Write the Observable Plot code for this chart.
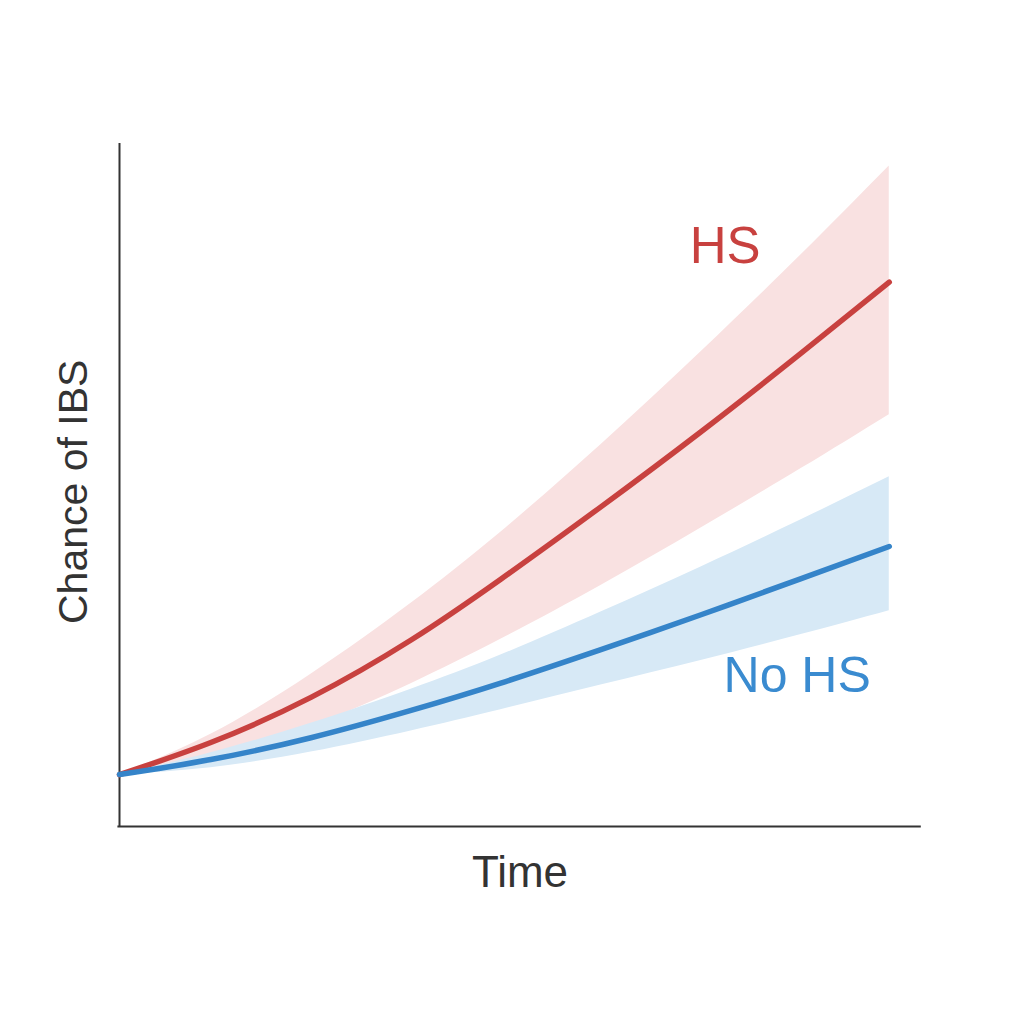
<!DOCTYPE html>
<html>
<head>
<meta charset="utf-8">
<script src="https://cdn.jsdelivr.net/npm/d3@7"></script>
<script src="https://cdn.jsdelivr.net/npm/@observablehq/plot@0.6"></script>
<style>
  html, body { margin: 0; padding: 0; background: #ffffff; }
  #chart { width: 1024px; height: 1024px; }
</style>
</head>
<body>
<div id="chart"></div>
<script>
// Time points (arbitrary units, 0–100 axis)
const time = [0, 11.4, 23.9, 36.4, 47.6, 60.1, 72.6, 85.1, 96.1];

// HS group: central estimate and band
const hsMid  = [7.6, 12.3, 18.9, 27.3, 36.2, 46.8, 57.8, 69.3, 79.7];
const hsHigh = [7.6, 13.5, 22.3, 32.7, 43.1, 55.9, 69.5, 83.7, 96.7];
const hsLow  = [7.6, 10.0, 14.6, 20.9, 27.4, 35.3, 43.7, 52.4, 60.3];

// No HS group: central estimate and band
const noMid  = [7.6, 9.8, 13.0, 17.0, 21.0, 25.9, 31.0, 36.3, 41.0];
const noHigh = [7.6, 10.8, 15.1, 20.1, 25.1, 31.4, 38.0, 44.9, 51.2];
const noLow  = [7.6, 8.6, 10.9, 14.0, 17.1, 20.7, 24.3, 28.1, 31.6];

// Series labels and their anchor positions (data units)
const seriesNames = ["HS", "No HS"];
const labelX = [75.6, 84.6];
const labelY = [84.9, 22.0];

const xLabel = "Time";
const yLabel = "Chance of IBS";

const hs = time.map((t, i) => ({t, mid: hsMid[i], hi: hsHigh[i], lo: hsLow[i]}));
const no = time.map((t, i) => ({t, mid: noMid[i], hi: noHigh[i], lo: noLow[i]}));

const RED = "#c8413f";
const BLUE = "#3584c9";
const FONT = "'Liberation Sans', Arial, sans-serif";
const CURVE = "natural";

const chart = Plot.plot({
  width: 1024,
  height: 1024,
  marginLeft: 119,
  marginRight: 104,
  marginTop: 143,
  marginBottom: 198,
  x: {domain: [0, 100], axis: null},
  y: {domain: [0, 100], axis: null},
  style: {background: "#ffffff", fontFamily: FONT},
  marks: [
    Plot.areaY(hs, {x: "t", y1: "lo", y2: "hi", fill: "#f9e1e1", curve: CURVE}),
    Plot.areaY(no, {x: "t", y1: "lo", y2: "hi", fill: "#d7e9f6", curve: CURVE}),
    Plot.ruleX([0], {y1: 0, y2: 100, stroke: "#333333", strokeWidth: 2}),
    Plot.ruleY([0], {x1: -0.2, x2: 100.1, stroke: "#333333", strokeWidth: 2}),
    Plot.line(hs, {x: "t", y: "mid", stroke: RED, strokeWidth: 5.5, curve: CURVE, strokeLinecap: "round"}),
    Plot.line(no, {x: "t", y: "mid", stroke: BLUE, strokeWidth: 5.5, curve: CURVE, strokeLinecap: "round"}),
    Plot.text([seriesNames[0]], {x: () => labelX[0], y: () => labelY[0], text: d => d, fill: RED, fontSize: 51, fontFamily: FONT}),
    Plot.text([seriesNames[1]], {x: () => labelX[1], y: () => labelY[1], text: d => d, fill: "#3a8bd0", fontSize: 50, fontFamily: FONT}),
    Plot.text([xLabel], {frameAnchor: "bottom", dy: 60, text: d => d, fill: "#333333", fontSize: 44, fontFamily: FONT}),
    Plot.text([yLabel], {x: () => -5.7, y: () => 49.0, text: d => d, rotate: -90, fill: "#333333", fontSize: 41, fontFamily: FONT})
  ]
});

document.getElementById("chart").appendChild(chart);
</script>
</body>
</html>
